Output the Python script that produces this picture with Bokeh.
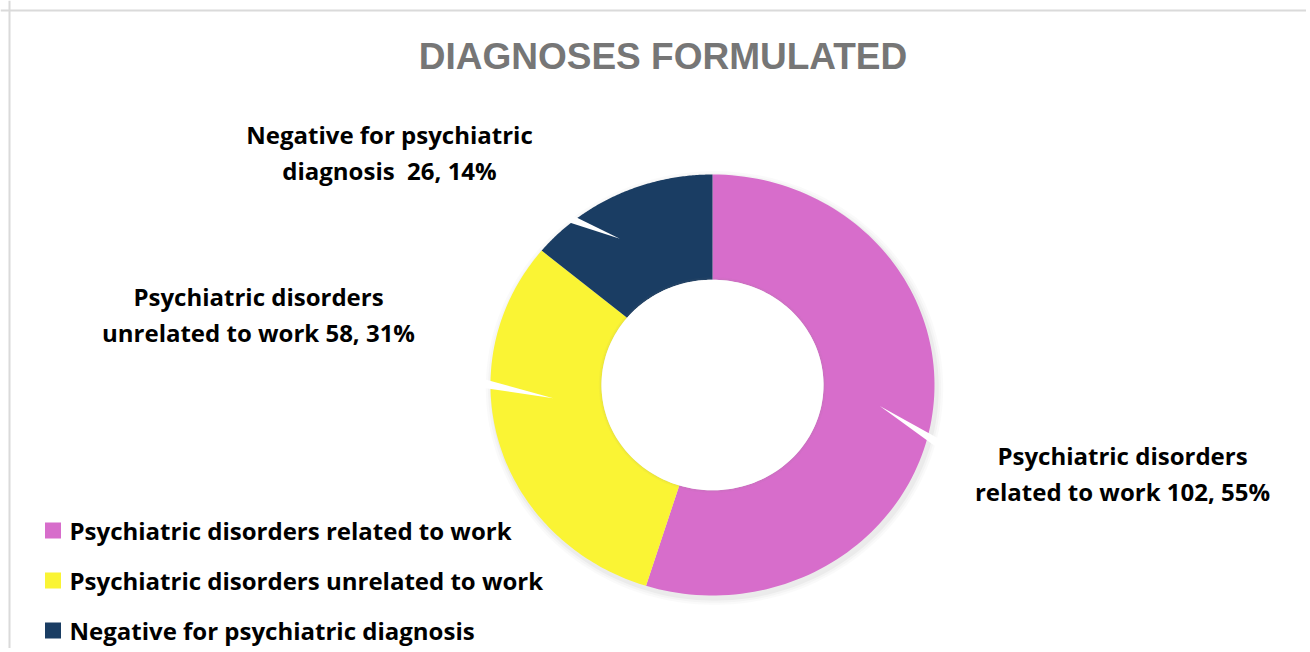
import numpy as np
from bokeh.plotting import figure
from bokeh.models import Range1d, Span
from bokeh.core.properties import value
from bokeh.embed import file_html
from bokeh.resources import INLINE

# ---- data ----
categories = ["Psychiatric disorders related to work",
              "Psychiatric disorders unrelated to work",
              "Negative for psychiatric diagnosis"]
counts = [102, 58, 26]
percents = [55, 31, 14]
label_texts = ["Psychiatric disorders\nrelated to work 102, 55%",
               "Psychiatric disorders\nunrelated to work 58, 31%",
               "Negative for psychiatric\ndiagnosis\u00a0 26, 14%"]
colors = ["#D76DCB", "#FAF434", "#1A3D63"]
title = "DIAGNOSES FORMULATED"

# ---- style / layout ----
W, H = 1306, 648
cx, cy = 712.0, 384.5
Rx, Ry = 222.0, 210.5
hole = 0.5
label_pos = [(1122, 473), (258, 314), (389, 152)]
leader_tip = [(97.5, 0.76), (265.0, 0.72), (329.0, 0.81)]   # (angle clockwise from top, r)
leader_end = [(105.5, 1.07), (270.5, 1.04), (320.0, 1.05)]
legend_x, legend_y0, legend_dy = 52.5, 530, 50

p = figure(width=W, height=H, output_backend="svg", toolbar_location=None,
           x_range=Range1d(0, W), y_range=Range1d(H, 0),
           min_border=0, outline_line_color=None)
p.axis.visible = False
p.grid.visible = False
p.background_fill_color = "white"
p.border_fill_color = "white"

# frame lines (left & top)
p.add_layout(Span(location=9, dimension="height", line_color="#DADADA", line_width=2))
p.add_layout(Span(location=10, dimension="width", line_color="#DADADA", line_width=2))


def pt(theta_deg, r):
    t = np.radians(theta_deg)
    return cx + Rx * r * np.sin(t), cy - Ry * r * np.cos(t)


# soft shadow
for k, a in [(1.03, 0.04), (1.02, 0.05), (1.01, 0.07)]:
    tt = np.linspace(0, 360, 200)
    xo, yo = pt(tt, k)
    xo = xo + 2
    yo = yo + 3
    p.patch(list(xo), list(yo), fill_color="#808080", fill_alpha=a, line_color=None)

total = float(sum(counts))
start = 0.0
xs, ys = [], []
for c in counts:
    end = start + 360.0 * c / total
    tt = np.linspace(start, end, 120)
    xo, yo = pt(tt, 1.0)
    xi, yi = pt(tt[::-1], hole)
    xs.append(list(np.concatenate([xo, xi])))
    ys.append(list(np.concatenate([yo, yi])))
    start = end
p.patches(xs, ys, fill_color=colors, line_color=None)

# inner hole shadow
tt = np.linspace(0, 360, 200)
for k, a in [(hole + 0.012, 0.05), (hole + 0.006, 0.06)]:
    xo, yo = pt(tt, k)
    p.patch(list(xo), list(yo), fill_color="#808080", fill_alpha=a, line_color=None)
xo, yo = pt(tt, hole)
p.patch(list(xo), list(yo), fill_color="white", line_color=None)

# leader wedges (white)
lx, ly = [], []
for (ta, ra), (te, re) in zip(leader_tip, leader_end):
    x0, y0 = pt(ta, ra)
    x1, y1 = pt(te, re)
    dx, dy = x1 - x0, y1 - y0
    L = np.hypot(dx, dy)
    nx, ny = -dy / L * 4.5, dx / L * 4.5
    lx.append([float(x0), float(x1 + nx), float(x1 - nx)])
    ly.append([float(y0), float(y1 + ny), float(y1 - ny)])
p.patches(lx, ly, fill_color="white", line_color=None)

# data labels
p.text(x=[q[0] for q in label_pos], y=[q[1] for q in label_pos], text=label_texts,
       text_font=value("Open Sans"), text_font_style="bold", text_font_size="24px",
       text_color="black", text_align="center", text_baseline="middle",
       text_line_height=1.1)

# title
p.text(x=[662.5], y=[56], text=[title], text_font=value("Liberation Sans"),
       text_font_style="bold", text_font_size="37px", text_color="#767676",
       text_align="center", text_baseline="middle")

# legend
ly_ = [legend_y0 + i * legend_dy for i in range(len(categories))]
p.scatter(x=[legend_x] * len(categories), y=ly_, marker="square", size=16,
          fill_color=colors, line_color=None)
p.text(x=[legend_x + 16.5] * len(categories), y=ly_, text=categories,
       text_font=value("Open Sans"), text_font_style="bold", text_font_size="24px",
       text_color="black", text_align="left", text_baseline="middle")

open("out.html", "w").write(file_html(p, INLINE))
